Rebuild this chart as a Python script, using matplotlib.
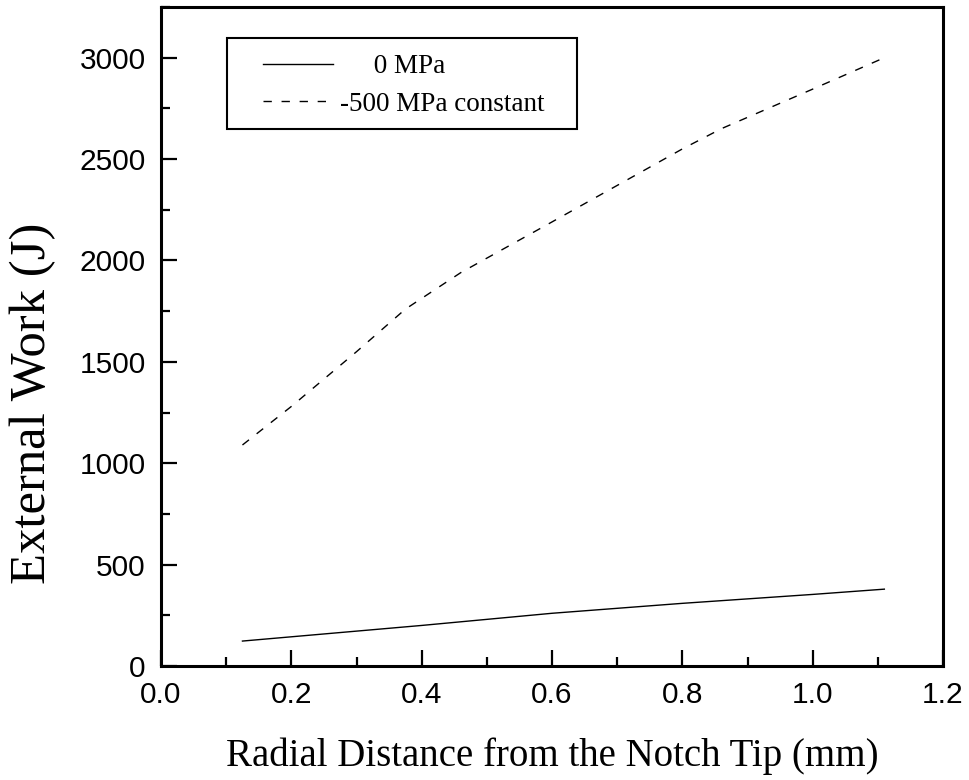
import numpy as np
import matplotlib
matplotlib.use("Agg")
import matplotlib.pyplot as plt
from matplotlib.ticker import MultipleLocator
from matplotlib.patches import Rectangle

# 0 MPa
x_zero = [0.125, 0.4, 0.6, 0.8, 1.0, 1.11]
w_zero = [123, 200, 260, 309, 353, 379]

# -500 MPa constant
x_const = [0.125, 0.2, 0.3, 0.375, 0.46, 0.6, 0.8, 0.86, 1.0, 1.11]
w_const = [1090, 1280, 1550, 1760, 1940, 2190, 2550, 2650, 2845, 3000]

labels = ["     0 MPa", "-500 MPa constant"]

serif = ["Liberation Serif", "DejaVu Serif"]
sans = ["Liberation Sans", "DejaVu Sans"]

W, H = 970, 780
fig = plt.figure(figsize=(W / 100, H / 100), dpi=100)
ax = fig.add_axes([161/W, 1 - 666/H, 782/W, 659/H])

def ax_frac(px, py):
    # pixel (from top-left) -> axes fraction
    return (px - 161) / 782, (666 - py) / 659

ax.plot(x_zero, w_zero, color="black", lw=1.0, label=labels[0])
ax.plot(x_const, w_const, color="black", lw=1.0, dashes=(6, 7), label=labels[1])

ax.set_xlim(0, 1.2)
ax.set_ylim(0, 3250)
ax.xaxis.set_major_locator(MultipleLocator(0.2))
ax.xaxis.set_minor_locator(MultipleLocator(0.1))
ax.yaxis.set_major_locator(MultipleLocator(500))
ax.yaxis.set_minor_locator(MultipleLocator(250))
ax.xaxis.set_major_formatter(plt.FuncFormatter(lambda v, p: f"{v:.1f}"))

for s in ax.spines.values():
    s.set_linewidth(2.2)

ax.tick_params(which="major", direction="in", length=11.5, width=1.6,
               labelsize=21.5, top=False, right=False)
ax.tick_params(which="minor", direction="in", length=6.5, width=1.6,
               top=False, right=False)
ax.tick_params(axis="y", pad=11)
ax.tick_params(axis="x", pad=11)
for lab in ax.get_xticklabels() + ax.get_yticklabels():
    lab.set_family(sans)

ax.set_xlabel("Radial Distance from the Notch Tip (mm)", family=serif,
              fontsize=28, labelpad=20)
ax.set_ylabel("External Work (J)", family=serif, fontsize=36.5)
ax.yaxis.set_label_coords(*ax_frac(56, 403))

# legend frame drawn separately so the padding can differ per side
x0, y0 = ax_frac(227, 129)
x1, y1 = ax_frac(577, 38)
ax.add_patch(Rectangle((x0, y0), x1 - x0, y1 - y0, transform=ax.transAxes,
                       fill=False, edgecolor="black", lw=1.5, zorder=5))
lx, ly = ax_frac(263, 54)
leg = ax.legend(loc="upper left", bbox_to_anchor=(lx, ly), borderaxespad=0,
                frameon=False, prop={"family": serif, "size": 19.5},
                handlelength=2.6, handletextpad=0.26, labelspacing=0.47,
                borderpad=0)

fig.savefig("out.png", dpi=100)
